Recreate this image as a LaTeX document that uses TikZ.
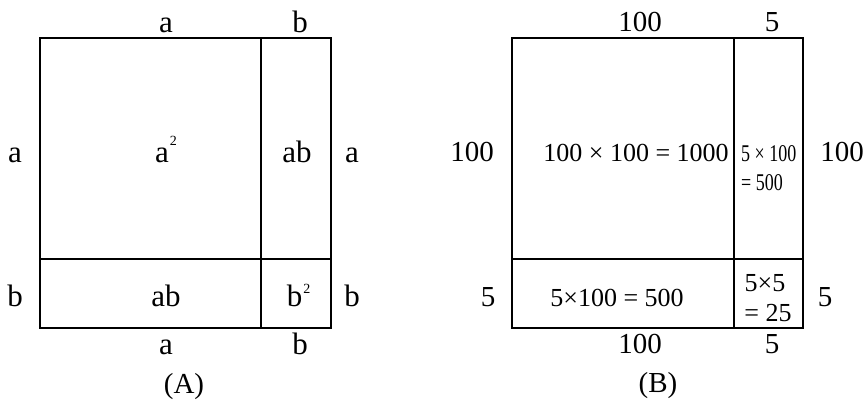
\documentclass[tikz,border=0pt]{standalone}
\usepackage{fontspec}
\setmainfont{Liberation Serif}
\begin{document}
\begin{tikzpicture}[x=1pt,y=-1pt,
  lbl/.style={font=\fontsize{29}{29}\selectfont, inner sep=0pt, anchor=base},
  let/.style={font=\fontsize{31}{31}\selectfont, inner sep=0pt, anchor=base},
  cell/.style={font=\fontsize{26}{26}\selectfont, inner sep=0pt, anchor=base},
  small/.style={font=\fontsize{24}{24}\selectfont, inner sep=0pt, anchor=base west, xscale=0.75},
  outer/.style={line width=1.6pt},
  inner/.style={line width=1.3pt}]
\useasboundingbox (0,0) rectangle (865,403);
% ---- (A) ----
\coordinate (A1) at (40,38);
\coordinate (A2) at (331,328);
\draw[outer] (A1) rectangle (A2);
\coordinate (Av1) at (261,38);
\coordinate (Av2) at (261,328);
\coordinate (Ah1) at (40,259);
\coordinate (Ah2) at (331,259);
\draw[inner] (Av1) -- (Av2);
\draw[outer] (Ah1) -- (Ah2);
\node[let] (ta) at (166,33) {a};
\node[let] (tb) at (300,33) {b};
\node[let] (la) at (15,163) {a};
\node[let] (ra) at (352,163) {a};
\node[let] (lb) at (15,307) {b};
\node[let] (rb) at (352,307) {b};
\node[let] (ba) at (166,355) {a};
\node[let] (bb) at (300,355) {b};
\node[let] (aa) at (166,163) {a\kern1pt\raisebox{17pt}{\fontsize{14}{14}\selectfont 2}};
\node[let] (ab1) at (297,163) {ab};
\node[let] (ab2) at (166,307) {ab};
\node[let] (bsq) at (298.5,307) {b\kern1pt\raisebox{13pt}{\fontsize{14}{14}\selectfont 2}};
\node[lbl] (capA) at (184,393) {(A)};
% ---- (B) ----
\coordinate (B1) at (512,38);
\coordinate (B2) at (803,328);
\draw[outer] (B1) rectangle (B2);
\coordinate (Bv1) at (734,38);
\coordinate (Bv2) at (734,328);
\coordinate (Bh1) at (512,259);
\coordinate (Bh2) at (803,259);
\draw[inner] (Bv1) -- (Bv2);
\draw[outer] (Bh1) -- (Bh2);
\node[lbl] (t100) at (640,32) {100};
\node[lbl] (t5) at (772,32) {5};
\node[lbl] (l100) at (472,162) {100};
\node[lbl] (r100) at (842,162) {100};
\node[lbl] (l5) at (488,307) {5};
\node[lbl] (r5) at (825,307) {5};
\node[lbl] (b100) at (640,354) {100};
\node[lbl] (b5) at (772,354) {5};
\node[cell] (big) at (636,162) {100 × 100 = 1000};
\node[small] (s1) at (741,162) {5 × 100};
\node[small] (s2) at (741,191) {= 500};
\node[cell] (bot) at (617,307) {5×100 = 500};
\node[cell] (c1) at (765,292) {5×5};
\node[cell] (c2) at (768,322) {= 25};
\node[lbl] (capB) at (658,392) {(B)};
\end{tikzpicture}
\end{document}
